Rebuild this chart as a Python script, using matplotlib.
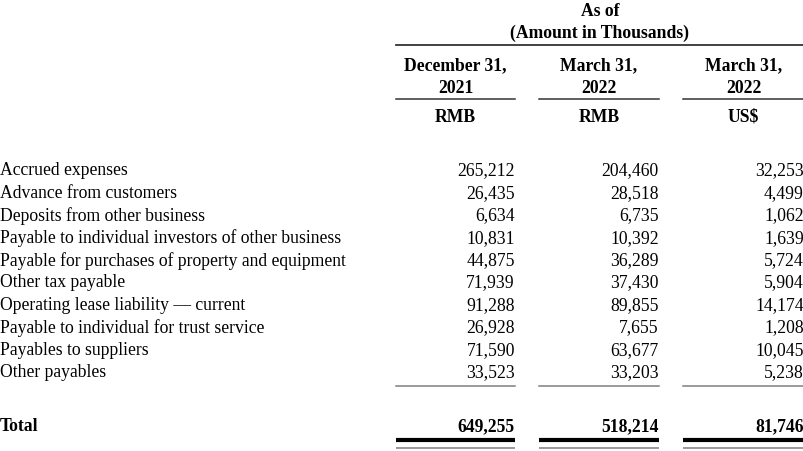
import matplotlib.pyplot as plt

items = [
    'Accrued expenses',
    'Advance from customers',
    'Deposits from other business',
    'Payable to individual investors of other business',
    'Payable for purchases of property and equipment',
    'Other tax payable',
    'Operating lease liability \u2014 current',
    'Payable to individual for trust service',
    'Payables to suppliers',
    'Other payables',
]
dec_2021_rmb = [265212, 26435, 6634, 10831, 44875, 71939, 91288, 26928, 71590, 33523]
mar_2022_rmb = [204460, 28518, 6735, 10392, 36289, 37430, 89855, 7655, 63677, 33203]
mar_2022_usd = [32253, 4499, 1062, 1639, 5724, 5904, 14174, 1208, 10045, 5238]
totals = [649255, 518214, 81746]
col_dates = ['December 31,\n2021', 'March 31,\n2022', 'March 31,\n2022']
col_units = ['RMB', 'RMB', 'US$']

plt.rcParams['font.family'] = 'Liberation Serif'

fig = plt.figure(figsize=(8.04, 4.52), dpi=100)
ax = fig.add_axes([0, 0, 1, 1])
ax.set_xlim(0, 804)
ax.set_ylim(452, 0)
ax.axis('off')

fs = 12.7
col_left = [396, 539, 683]
col_right = [515, 659, 804]
gray = '#7f7f7f'

# header
ax.text(600, 12, 'As of', ha='center', va='center', fontsize=fs, fontweight='bold')
ax.text(600, 33, '(Amount in Thousands)', ha='center', va='center', fontsize=fs, fontweight='bold')
ax.plot([396, 804], [46, 46], color='#333333', lw=1.3)

for i in range(3):
    cx = (col_left[i] + col_right[i]) / 2
    ax.text(cx, 77, col_dates[i], ha='center', va='center', fontsize=fs,
            fontweight='bold', linespacing=1.45)
    ax.plot([col_left[i], col_right[i]], [100, 100], color='#333333', lw=1.1)
    ax.text(cx, 117, col_units[i], ha='center', va='center', fontsize=fs, fontweight='bold')

row_y0 = 171
row_step = 22.4
for r, name in enumerate(items):
    y = row_y0 + r * row_step
    ax.text(0, y, name, ha='left', va='center', fontsize=fs)
    for i, vals in enumerate([dec_2021_rmb, mar_2022_rmb, mar_2022_usd]):
        ax.text(col_right[i], y, f'{vals[r]:,}', ha='right', va='center', fontsize=fs)

for i in range(3):
    ax.plot([col_left[i], col_right[i]], [387, 387], color=gray, lw=1.1)
    ax.plot([col_left[i], col_right[i]], [441, 441], color='black', lw=3.0, solid_capstyle='butt')
    ax.plot([col_left[i], col_right[i]], [449, 449], color=gray, lw=1.1, solid_capstyle='butt')
    ax.text(col_right[i], 427, f'{totals[i]:,}', ha='right', va='center', fontsize=fs, fontweight='bold')

ax.text(0, 427, 'Total', ha='left', va='center', fontsize=fs, fontweight='bold')

fig.savefig('out.png', dpi=100, facecolor='white')
